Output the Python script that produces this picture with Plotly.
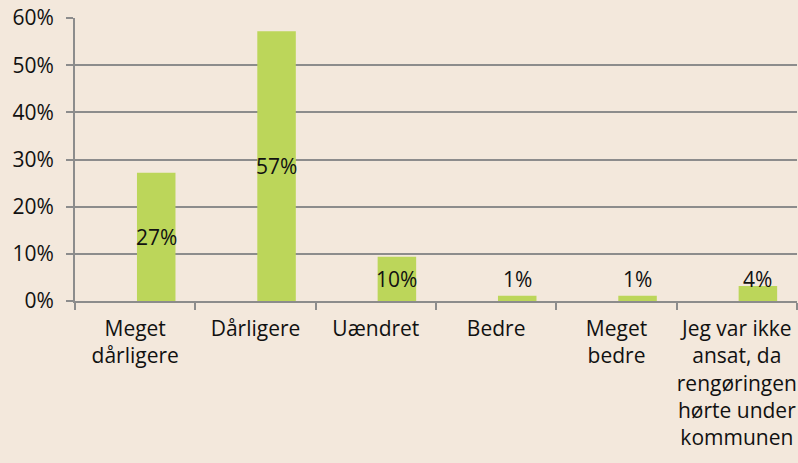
import plotly.graph_objects as go

categories = ["Meget<br>dårligere", "Dårligere", "Uændret", "Bedre", "Meget<br>bedre",
              "Jeg var ikke<br>ansat, da<br>rengøringen<br>hørte under<br>kommunen"]
values = [0.272, 0.572, 0.094, 0.011, 0.011, 0.032]
labels = ["27%", "57%", "10%", "1%", "1%", "4%"]
y_ticks = [0, 0.1, 0.2, 0.3, 0.4, 0.5, 0.6]

BG = "#F3E8DC"
BAR = "#BCD65A"
GRID = "#8C8C8C"
FONT = "Open Sans"
FS = 21

label_y = [max(v / 2, 0.0466) for v in values]

fig = go.Figure()
fig.add_trace(go.Bar(x=categories, y=values, marker=dict(color=BAR, line=dict(width=0)),
                     width=0.32, offset=0.015, hoverinfo="skip"))

for c, ly, t in zip(categories, label_y, labels):
    fig.add_annotation(x=c, y=ly, text=t, showarrow=False, xshift=21,
                       font=dict(family=FONT, size=FS, color="#111111"))

fig.update_layout(
    width=798, height=463,
    paper_bgcolor=BG, plot_bgcolor=BG,
    margin=dict(l=75, r=1, t=18, b=162),
    showlegend=False,
    font=dict(family=FONT, size=FS, color="#111111"),
)
fig.update_xaxes(
    type="category", showgrid=False, showline=True, linecolor=GRID, linewidth=1.5,
    ticks="outside", tickson="boundaries", ticklen=7, tickcolor=GRID, tickwidth=1.5,
    tickfont=dict(family=FONT, size=FS, color="#111111"), range=[-0.5, 5.5],
    tickangle=0, automargin=False, ticklabelstandoff=8,
)
fig.update_yaxes(
    range=[0, 0.6], tickvals=y_ticks, tickformat=".0%", showgrid=True, gridcolor=GRID,
    gridwidth=1.5, showline=True, linecolor=GRID, linewidth=2, ticks="outside",
    ticklen=7, tickcolor=GRID, tickwidth=1.5, zeroline=False, automargin=False,
    tickfont=dict(family=FONT, size=FS, color="#111111"), ticklabelstandoff=8,
)

fig.write_html("out.html", config={"displayModeBar": False},
               post_script="document.body.style.margin='0';")
